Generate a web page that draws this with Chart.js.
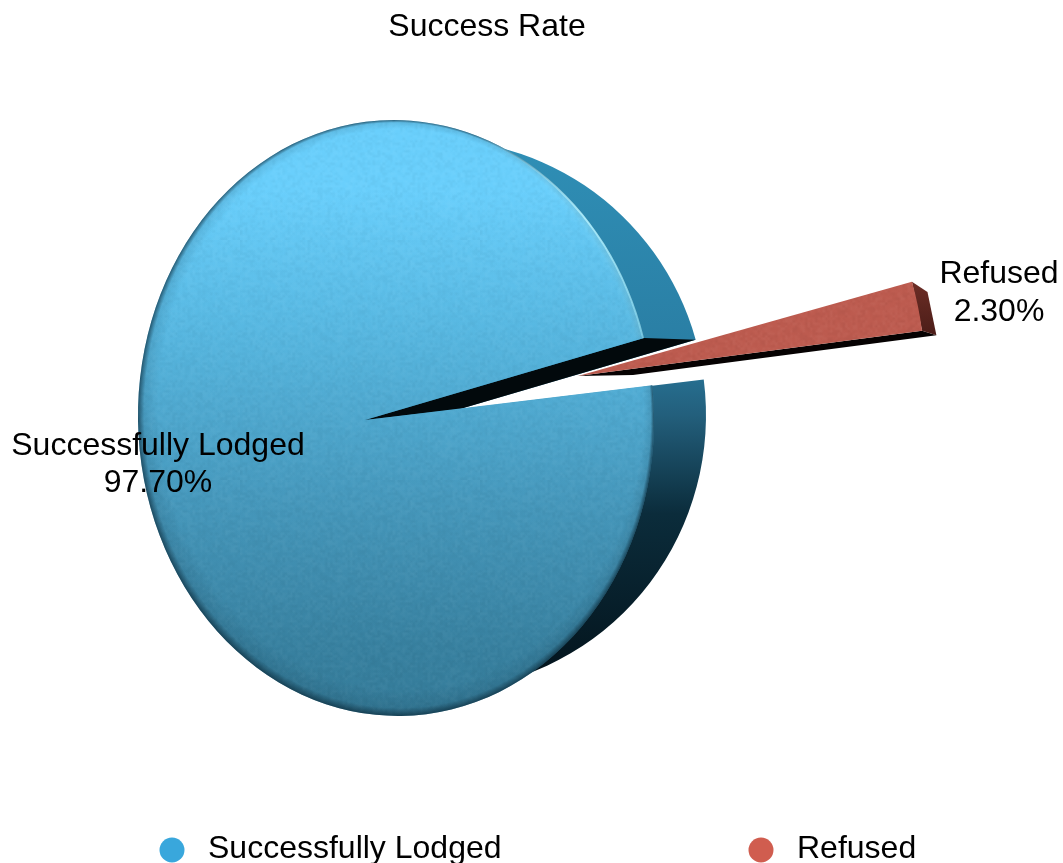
<!DOCTYPE html>
<html>
<head>
<meta charset="utf-8">
<title>Success Rate</title>
<style>
  html, body { margin: 0; padding: 0; background: #fff; overflow: hidden; }
  canvas { display: block; }
</style>
<script src="https://cdn.jsdelivr.net/npm/chart.js@4/dist/chart.umd.min.js"></script>
</head>
<body>
<canvas id="successChart" width="1063" height="863"></canvas>
<script>
var categories = ['Successfully Lodged', 'Refused'];
var percentValues = [97.7, 2.3];
var legendColors = ['#39a7dc', '#d05d4f'];

var font = '"Liberation Sans", Arial, sans-serif';

// the picture is a 3D pie seen from an angle, so the round arcs of chart.js
// get projected on these ellipses. Angles still come from the arc elements.
var face = { cx: 396, cy: 418, rx: 258, ry: 298, ax: 365, ay: 420, tilt: -1.5 * Math.PI / 180 };
var back = { cx: 436, cy: 415, rx: 270, ry: 275, ax: 460, ay: 409, tilt: 0 };
var explodeRadius = 347;
var explodeBackRadius = 306;
var explodeDepth = 55;
var gapPad = 0.6 * Math.PI / 180;

function rimPoint(e, angle) {
  // ray from the apex to the ellipse edge, worked out in the ellipse's own axes
  var c0 = Math.cos(-e.tilt), s0 = Math.sin(-e.tilt);
  var dx = Math.cos(angle), dy = Math.sin(angle);
  var px = e.ax - e.cx, py = e.ay - e.cy;
  var ox = (px * c0 - py * s0) / e.rx, oy = (px * s0 + py * c0) / e.ry;
  var vx = (dx * c0 - dy * s0) / e.rx, vy = (dx * s0 + dy * c0) / e.ry;
  var a = vx * vx + vy * vy;
  var b = 2 * (ox * vx + oy * vy);
  var c = ox * ox + oy * oy - 1;
  var s = (-b + Math.sqrt(b * b - 4 * a * c)) / (2 * a);
  return {
    x: e.ax + dx * s,
    y: e.ay + dy * s,
    t: Math.atan2(oy + vy * s, ox + vx * s)
  };
}

function sectorPath(ctx, e, a0, a1) {
  var p0 = rimPoint(e, a0), p1 = rimPoint(e, a1);
  ctx.beginPath();
  ctx.moveTo(e.ax, e.ay);
  ctx.lineTo(p0.x, p0.y);
  ctx.ellipse(e.cx, e.cy, e.rx, e.ry, e.tilt, p0.t, p1.t, false);
  ctx.closePath();
}

function makeTexture() {
  var small = document.createElement('canvas');
  small.width = small.height = 96;
  var sctx = small.getContext('2d');
  var img = sctx.createImageData(96, 96);
  for (var j = 0; j < 96; j++) {
    for (var i = 0; i < 96; i++) {
      var h = Math.sin(i * 12.9898 + j * 78.233) * 43758.5453;
      h = h - Math.floor(h);
      var k = (j * 96 + i) * 4;
      var v = h > 0.5 ? 255 : 0;
      img.data[k] = v; img.data[k + 1] = v; img.data[k + 2] = v;
      img.data[k + 3] = Math.abs(h - 0.5) * 20;
    }
  }
  sctx.putImageData(img, 0, 0);
  var big = document.createElement('canvas');
  big.width = big.height = 240;
  var bctx = big.getContext('2d');
  bctx.imageSmoothingEnabled = true;
  bctx.drawImage(small, 0, 0, 240, 240);
  return big;
}

var pie3d = {
  id: 'pie3d',
  beforeDatasetsDraw: function(chart) {
    var ctx = chart.ctx;
    var arcs = chart.getDatasetMeta(0).data;
    var texture = ctx.createPattern(makeTexture(), 'repeat');

    var start = arcs[0].startAngle + gapPad;
    var end = arcs[0].endAngle - gapPad;

    // side of the big slice
    var side = ctx.createLinearGradient(0, 140, 0, 690);
    side.addColorStop(0, '#2f8fb6');
    side.addColorStop(0.36, '#2a7fa5');
    side.addColorStop(0.5, '#235f7c');
    side.addColorStop(0.68, '#0b2c3b');
    side.addColorStop(1, '#03121a');
    sectorPath(ctx, back, start, end);
    ctx.fillStyle = side;
    ctx.fill();

    // inner wall of the cut
    var f1 = rimPoint(face, end), b1 = rimPoint(back, end);
    ctx.beginPath();
    ctx.moveTo(face.ax, face.ay);
    ctx.lineTo(f1.x, f1.y);
    ctx.lineTo(b1.x, b1.y);
    ctx.lineTo(back.ax, back.ay);
    ctx.closePath();
    ctx.fillStyle = '#02090c';
    ctx.fill();

    // front face
    var grad = ctx.createLinearGradient(0, 190, 0, 716);
    grad.addColorStop(0, '#69cffc');
    grad.addColorStop(0.25, '#58b9e3');
    grad.addColorStop(0.6, '#4597bb');
    grad.addColorStop(0.88, '#37809f');
    grad.addColorStop(1, '#357c9a');
    sectorPath(ctx, face, start, end);
    ctx.fillStyle = grad;
    ctx.fill();

    ctx.save();
    ctx.clip();
    ctx.fillStyle = texture;
    ctx.fillRect(0, 0, chart.width, chart.height);

    // shadow along the left and the bottom, the top right stays clean
    ctx.save();
    ctx.translate(face.cx, face.cy);
    ctx.rotate(face.tilt);
    ctx.scale(face.rx, face.ry);
    var shade = ctx.createRadialGradient(0.02, -0.03, 0.94, 0, 0, 1);
    shade.addColorStop(0, 'rgba(2,25,38,0)');
    shade.addColorStop(0.7, 'rgba(2,25,38,0.1)');
    shade.addColorStop(1, 'rgba(2,25,38,0.6)');
    ctx.fillStyle = shade;
    ctx.fillRect(-1.1, -1.1, 2.2, 2.2);
    ctx.restore();

    // light rim on the upper right
    var hi = ctx.createLinearGradient(480, 135, 640, 340);
    hi.addColorStop(0, 'rgba(175,240,255,0)');
    hi.addColorStop(0.5, 'rgba(175,240,255,0.9)');
    hi.addColorStop(1, 'rgba(140,228,255,0.65)');
    ctx.beginPath();
    ctx.ellipse(face.cx, face.cy, face.rx, face.ry, face.tilt, -1.35, f1.t, false);
    ctx.strokeStyle = hi;
    ctx.lineWidth = 4;
    ctx.shadowColor = 'rgba(170,240,255,0.9)';
    ctx.shadowBlur = 8;
    ctx.stroke();
    ctx.restore();

    // exploded slice, moved out by the offset of its arc
    var arc = arcs[1];
    var mid = (arc.startAngle + arc.endAngle) / 2;
    var x0 = face.ax + Math.cos(mid) * arc.options.offset;
    var y0 = face.ay + Math.sin(mid) * arc.options.offset;
    var x1 = x0 + explodeDepth, y1 = y0 - 1;
    var a0 = arc.startAngle, a1 = arc.endAngle;

    function fp(a) { return { x: x0 + Math.cos(a) * explodeRadius, y: y0 + Math.sin(a) * explodeRadius }; }
    function bp(a) { return { x: x1 + Math.cos(a) * explodeBackRadius, y: y1 + Math.sin(a) * explodeBackRadius }; }

    ctx.beginPath();
    ctx.moveTo(x0, y0);
    ctx.lineTo(fp(a1).x, fp(a1).y);
    ctx.lineTo(bp(a1).x, bp(a1).y);
    ctx.lineTo(x1, y1);
    ctx.closePath();
    ctx.fillStyle = '#060202';
    ctx.fill();

    var endGrad = ctx.createLinearGradient(0, 285, 0, 335);
    endGrad.addColorStop(0, '#6a2c25');
    endGrad.addColorStop(1, '#4b1d18');
    ctx.beginPath();
    ctx.moveTo(fp(a0).x, fp(a0).y);
    ctx.lineTo(bp(a0).x, bp(a0).y);
    ctx.lineTo(bp(a1).x, bp(a1).y);
    ctx.lineTo(fp(a1).x, fp(a1).y);
    ctx.closePath();
    ctx.fillStyle = endGrad;
    ctx.fill();

    ctx.beginPath();
    ctx.moveTo(x0, y0);
    ctx.arc(x0, y0, explodeRadius, a1, a0, true);
    ctx.closePath();
    ctx.fillStyle = arc.options.backgroundColor;
    ctx.fill();
    ctx.save();
    ctx.clip();
    ctx.fillStyle = texture;
    ctx.fillRect(0, 0, chart.width, chart.height);
    ctx.restore();

    return false;
  },
  afterDraw: function(chart) {
    var ctx = chart.ctx;
    ctx.save();
    ctx.fillStyle = '#000';
    ctx.font = '32px ' + font;
    ctx.textBaseline = 'alphabetic';

    // slice labels
    ctx.textAlign = 'center';
    ctx.fillText(categories[0], 158, 455);
    ctx.fillText(percentValues[0].toFixed(2) + '%', 158, 492);
    ctx.fillText(categories[1], 999, 283);
    ctx.fillText(percentValues[1].toFixed(2) + '%', 999, 321);

    // legend, the built in one can't leave this wide a gap on one row
    var dotX = [172, 761];
    ctx.textAlign = 'left';
    for (var i = 0; i < categories.length; i++) {
      ctx.beginPath();
      ctx.arc(dotX[i], 850, 12.5, 0, Math.PI * 2);
      ctx.fillStyle = legendColors[i];
      ctx.fill();
      ctx.fillStyle = '#000';
      ctx.fillText(categories[i], dotX[i] + 36, 858);
    }
    ctx.restore();
  }
};

var chart = new Chart(document.getElementById('successChart').getContext('2d'), {
  type: 'pie',
  data: {
    labels: categories,
    datasets: [{
      data: percentValues,
      backgroundColor: ['#57b8e2', '#bd5b4f'],
      borderWidth: 0,
      offset: [0, 217.5]
    }]
  },
  options: {
    responsive: false,
    animation: false,
    rotation: 82.5,
    layout: { padding: { right: 89, top: 2 } },
    plugins: {
      title: {
        display: true,
        text: 'Success Rate',
        fullSize: false,
        color: '#000',
        font: { family: font, size: 32, weight: 'normal' },
        padding: { top: 6, bottom: 0 }
      },
      legend: { display: false },
      tooltip: { enabled: false }
    }
  },
  plugins: [pie3d]
});
</script>
</body>
</html>
